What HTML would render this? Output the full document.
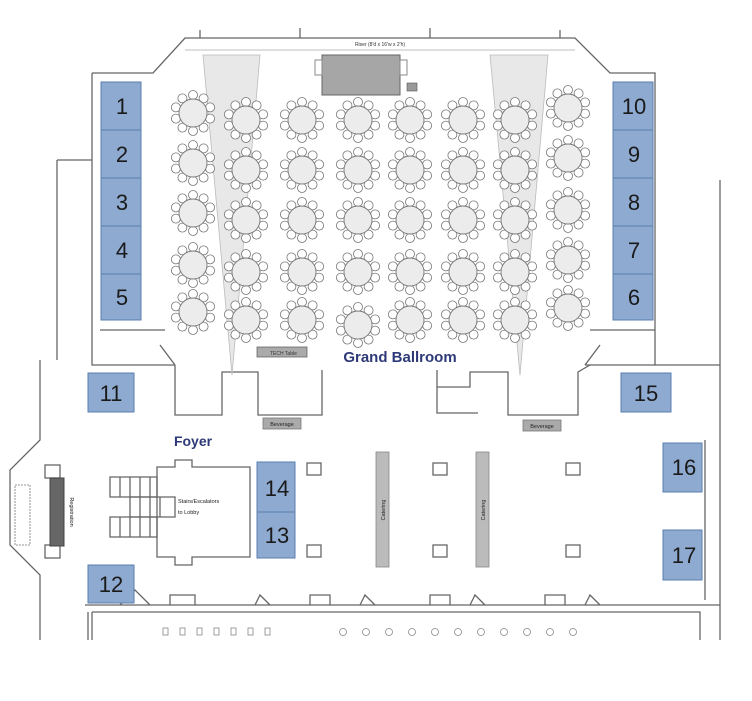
<!DOCTYPE html>
<html><head><meta charset="utf-8"><style>
html,body{margin:0;padding:0;background:#fff;}
svg{display:block;font-family:"Liberation Sans",sans-serif;}
</style></head><body>
<svg width="752" height="701" viewBox="0 0 752 701" xmlns="http://www.w3.org/2000/svg">
<defs>
<g id="t">
<circle cx="0" cy="-18" r="4.5" fill="#fff" stroke="#777" stroke-width="0.8"/>
<circle cx="10.6" cy="-14.6" r="4.5" fill="#fff" stroke="#777" stroke-width="0.8"/>
<circle cx="17.1" cy="-5.6" r="4.5" fill="#fff" stroke="#777" stroke-width="0.8"/>
<circle cx="17.1" cy="5.6" r="4.5" fill="#fff" stroke="#777" stroke-width="0.8"/>
<circle cx="10.6" cy="14.6" r="4.5" fill="#fff" stroke="#777" stroke-width="0.8"/>
<circle cx="0" cy="18" r="4.5" fill="#fff" stroke="#777" stroke-width="0.8"/>
<circle cx="-10.6" cy="14.6" r="4.5" fill="#fff" stroke="#777" stroke-width="0.8"/>
<circle cx="-17.1" cy="5.6" r="4.5" fill="#fff" stroke="#777" stroke-width="0.8"/>
<circle cx="-17.1" cy="-5.6" r="4.5" fill="#fff" stroke="#777" stroke-width="0.8"/>
<circle cx="-10.6" cy="-14.6" r="4.5" fill="#fff" stroke="#777" stroke-width="0.8"/>
<circle cx="0" cy="0" r="14" fill="#ececec" stroke="#777" stroke-width="0.9"/>
</g>
</defs>
<g fill="none" stroke="#666" stroke-width="1.3">
<!-- ballroom outer -->
<path d="M57 160 L57 360 M57 160 L92 160"/>
<path d="M92 73 L153 73 L185 38 L575 38 L610 73 L655 73 L655 365"/>
<path d="M92 73 L92 365 L175 365 M585 365 L720 365"/>
<path d="M100 330 L165 330 M590 330 L655 330"/>
<path d="M200 38 L200 30 M300 38 L300 28 M430 38 L430 28 M560 38 L560 30"/>
<line x1="185" y1="50" x2="575" y2="50" stroke="#aaa" stroke-width="0.8"/>
<!-- lower walls -->
<path d="M40 360 L40 440 L10 470 L10 545 L40 575 L40 640"/>
<path d="M720 180 L720 640"/>
<path d="M705 440 L705 600"/>
<path d="M85 605 L720 605 M92 612 L92 640 M92 612 L700 612 L700 640 M88 640 L88 612"/>
<path d="M175 365 L175 415 L222 415 L222 372 L258 372 L258 415 L322 415 L322 370"/>
<path d="M437 370 L437 387 L470 387 L470 372 L508 372 L508 415 L578 415 L578 372 L590 365"/>
<path d="M437 387 L437 413 L478 413"/>
<path d="M175 365 L160 345 M585 365 L600 345"/>
<path d="M120 605 L135 590 L150 605 M170 605 L170 595 L195 595 L195 605 M255 605 L260 595 L270 605 M310 605 L310 595 L330 595 L330 605 M360 605 L365 595 L375 605 M430 605 L430 595 L450 595 L450 605 M470 605 L475 595 L485 605 M545 605 L545 595 L565 595 L565 605 M585 605 L590 595 L600 605"/>
<!-- stair hall -->
<path d="M157 467 L175 467 L175 460 L192 460 L192 467 L250 467 L250 557 L192 557 L192 565 L175 565 L175 557 L157 557 Z"/>
<path d="M110 477 L157 477 L157 497 L110 497 Z M120 477 L120 497 M130 477 L130 497 M140 477 L140 497 M150 477 L150 497"/>
<path d="M110 517 L157 517 L157 537 L110 537 Z M120 517 L120 537 M130 517 L130 537 M140 517 L140 537 M150 517 L150 537"/>
<path d="M130 497 L175 497 L175 517 L130 517 Z M140 497 L140 517 M150 497 L150 517 M160 497 L160 517"/>
<rect x="45" y="465" width="15" height="13"/><rect x="45" y="545" width="15" height="13"/>
<rect x="15" y="485" width="15" height="60" stroke="#aaa" stroke-dasharray="2 1"/>
<rect x="307" y="463" width="14" height="12"/><rect x="307" y="545" width="14" height="12"/>
<rect x="433" y="463" width="14" height="12"/><rect x="433" y="545" width="14" height="12"/>
<rect x="566" y="463" width="14" height="12"/><rect x="566" y="545" width="14" height="12"/>
</g>
<g fill="#bbb" stroke="none" font-size="0"></g>
<!-- projection cones -->
<polygon points="203,55 260,55 232,375" fill="#e8e8e8" stroke="#bbb" stroke-width="0.8"/>
<polygon points="490,55 548,55 520,375" fill="#e8e8e8" stroke="#bbb" stroke-width="0.8"/>
<!-- stage -->
<rect x="322" y="55" width="78" height="40" fill="#a6a6a6" stroke="#666"/>
<rect x="315" y="60" width="7" height="15" fill="#fff" stroke="#888"/>
<rect x="400" y="60" width="7" height="15" fill="#fff" stroke="#888"/>
<rect x="407" y="83" width="10" height="8" fill="#999" stroke="#555" stroke-width="0.6"/>
<text x="380" y="46" font-size="5" text-anchor="middle" fill="#333">Riser (8'd x 16'w x 2'h)</text>
<!-- tables -->
<g>
<use href="#t" x="193" y="113"/><use href="#t" x="193" y="163"/><use href="#t" x="193" y="213"/><use href="#t" x="193" y="265"/><use href="#t" x="193" y="312"/>
<use href="#t" x="246" y="120"/><use href="#t" x="246" y="170"/><use href="#t" x="246" y="220"/><use href="#t" x="246" y="272"/><use href="#t" x="246" y="320"/>
<use href="#t" x="302" y="120"/><use href="#t" x="302" y="170"/><use href="#t" x="302" y="220"/><use href="#t" x="302" y="272"/><use href="#t" x="302" y="320"/>
<use href="#t" x="358" y="120"/><use href="#t" x="358" y="170"/><use href="#t" x="358" y="220"/><use href="#t" x="358" y="272"/><use href="#t" x="358" y="325"/>
<use href="#t" x="410" y="120"/><use href="#t" x="410" y="170"/><use href="#t" x="410" y="220"/><use href="#t" x="410" y="272"/><use href="#t" x="410" y="320"/>
<use href="#t" x="463" y="120"/><use href="#t" x="463" y="170"/><use href="#t" x="463" y="220"/><use href="#t" x="463" y="272"/><use href="#t" x="463" y="320"/>
<use href="#t" x="515" y="120"/><use href="#t" x="515" y="170"/><use href="#t" x="515" y="220"/><use href="#t" x="515" y="272"/><use href="#t" x="515" y="320"/>
<use href="#t" x="568" y="108"/><use href="#t" x="568" y="158"/><use href="#t" x="568" y="210"/><use href="#t" x="568" y="260"/><use href="#t" x="568" y="308"/>
</g>
<!-- tech table -->
<rect x="257" y="347" width="50" height="10" fill="#aaa" stroke="#666" stroke-width="0.8"/>
<text x="270" y="355" font-size="5" fill="#333">TECH Table</text>
<text x="400" y="362" font-size="15" font-weight="bold" fill="#2e3a78" text-anchor="middle">Grand Ballroom</text>
<!-- booths -->
<g fill="#8eaad0" stroke="#5b7fb0" stroke-width="1">
<rect x="101" y="82" width="40" height="48"/><rect x="101" y="130" width="40" height="48"/><rect x="101" y="178" width="40" height="48"/><rect x="101" y="226" width="40" height="48"/><rect x="101" y="274" width="40" height="46"/>
<rect x="613" y="82" width="40" height="48"/><rect x="613" y="130" width="40" height="48"/><rect x="613" y="178" width="40" height="48"/><rect x="613" y="226" width="40" height="48"/><rect x="613" y="274" width="40" height="46"/>
<rect x="88" y="373" width="46" height="39"/><rect x="621" y="373" width="50" height="39"/>
<rect x="88" y="565" width="46" height="38"/>
<rect x="257" y="462" width="38" height="50"/><rect x="257" y="512" width="38" height="46"/>
<rect x="663" y="443" width="39" height="49"/><rect x="663" y="530" width="39" height="50"/>
</g>
<g font-size="22" fill="#1a1a1a" text-anchor="middle">
<text x="122" y="114">1</text><text x="122" y="162">2</text><text x="122" y="210">3</text><text x="122" y="258">4</text><text x="122" y="305">5</text>
<text x="634" y="114">10</text><text x="634" y="162">9</text><text x="634" y="210">8</text><text x="634" y="258">7</text><text x="634" y="305">6</text>
<text x="111" y="401">11</text><text x="646" y="401">15</text><text x="111" y="592">12</text>
<text x="277" y="496">14</text><text x="277" y="543">13</text>
<text x="684" y="475">16</text><text x="684" y="563">17</text>
</g>
<!-- beverage, catering, registration -->
<rect x="263" y="418" width="38" height="11" fill="#aaa" stroke="#777" stroke-width="0.8"/>
<text x="282" y="426" font-size="5.5" fill="#222" text-anchor="middle">Beverage</text>
<rect x="523" y="420" width="38" height="11" fill="#aaa" stroke="#777" stroke-width="0.8"/>
<text x="542" y="428" font-size="5.5" fill="#222" text-anchor="middle">Beverage</text>
<text x="193" y="446" font-size="14" font-weight="bold" fill="#2e3a78" text-anchor="middle">Foyer</text>
<rect x="376" y="452" width="13" height="115" fill="#bbb" stroke="#888" stroke-width="0.8"/>
<rect x="476" y="452" width="13" height="115" fill="#bbb" stroke="#888" stroke-width="0.8"/>
<text transform="translate(385,510) rotate(-90)" font-size="5.5" text-anchor="middle" fill="#222">Catering</text>
<text transform="translate(485,510) rotate(-90)" font-size="5.5" text-anchor="middle" fill="#222">Catering</text>
<rect x="50" y="478" width="14" height="68" fill="#666" stroke="#444"/>
<text transform="translate(70,512) rotate(90)" font-size="5.5" text-anchor="middle" fill="#222">Registration</text>
<text x="178" y="503" font-size="5.5" fill="#222">Stairs/Escalators</text>
<text x="178" y="514" font-size="5.5" fill="#222">to Lobby</text>
<!-- bottom column row -->
<g fill="none" stroke="#888" stroke-width="0.8">
<rect x="163" y="628" width="5" height="7"/><rect x="180" y="628" width="5" height="7"/><rect x="197" y="628" width="5" height="7"/><rect x="214" y="628" width="5" height="7"/><rect x="231" y="628" width="5" height="7"/><rect x="248" y="628" width="5" height="7"/><rect x="265" y="628" width="5" height="7"/>
<circle cx="343" cy="632" r="3.5"/><circle cx="366" cy="632" r="3.5"/><circle cx="389" cy="632" r="3.5"/><circle cx="412" cy="632" r="3.5"/><circle cx="435" cy="632" r="3.5"/><circle cx="458" cy="632" r="3.5"/><circle cx="481" cy="632" r="3.5"/><circle cx="504" cy="632" r="3.5"/><circle cx="527" cy="632" r="3.5"/><circle cx="550" cy="632" r="3.5"/><circle cx="573" cy="632" r="3.5"/>
</g>
</svg>
</body></html>
